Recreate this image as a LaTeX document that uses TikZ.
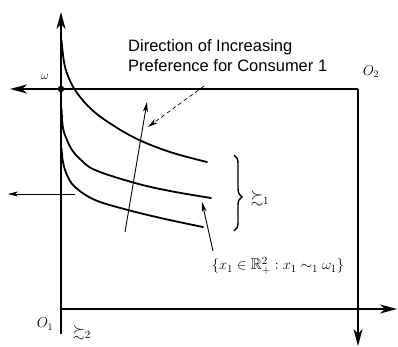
\documentclass[tikz,border=0pt]{standalone}
\usepackage{amssymb}
\usepackage{fontspec}
\setsansfont{Liberation Sans}
\usetikzlibrary{arrows.meta,decorations.pathreplacing}
\begin{document}
\begin{tikzpicture}[x=1pt,y=-1pt,
  axis/.style={line width=1.6pt,-{Stealth[length=17pt,width=9pt,inset=5pt]}},
  icurve/.style={line width=1.8pt, line cap=round},
  thinarrow/.style={line width=0.9pt,-{Stealth[length=10pt,width=5pt,inset=3pt]}},
  lbl/.style={inner sep=0pt, font=\fontsize{14}{16}\selectfont}]
\useasboundingbox (0,0) rectangle (398,347);
% axes
\coordinate (O1) at (61,309);
\coordinate (O1b) at (61,334);
\coordinate (Y1) at (61,12);
\coordinate (X1) at (397,309);
\coordinate (O2) at (358,89);
\coordinate (X2) at (10,89);
\coordinate (Y2) at (358,346);
\draw[axis,line width=2.4pt] (O1b) -- (Y1);
\draw[axis] (O1) -- (X1);
\draw[axis] (O2) -- (X2);
\draw[axis] (O2) -- (Y2);
% endowment
\node[circle, fill, inner sep=0pt, minimum size=6.5pt] (omega) at (61,89) {};
\node[lbl, font=\fontsize{12}{13}\selectfont] (wlabel) at (45,77) {$\omega$};
% indifference curves
\draw[icurve] plot[smooth, tension=0.6] coordinates {(61.5,40) (64,62) (68,76) (75,90) (88,106) (105,120) (135,138) (170,152) (207,162)};
\draw[icurve] plot[smooth, tension=0.6] coordinates {(61.5,108) (63,128) (67,140) (72,150) (80,159) (95,170) (135,183) (170,191) (211,198)};
\draw[icurve] plot[smooth, tension=0.6] coordinates {(61.5,148) (63,162) (67,175) (75,187) (95,200) (128,210) (165,219) (203,227)};
% direction arrow
\coordinate (dA) at (125,232);
\coordinate (dB) at (147,102);
\draw[thinarrow] (dA) -- (dB);
\node[anchor=north west, align=left, inner sep=0pt, font=\sffamily\fontsize{16.5}{20}\selectfont] (txt) at (128,39) {Direction of Increasing\\Preference for Consumer 1};
\coordinate (dsS) at (204,86);
\coordinate (dsE) at (148,127);
\draw[thinarrow, line width=0.7pt, dash pattern=on 4pt off 3pt] (dsS) -- (dsE);
% left arrow
\coordinate (lA) at (75,194);
\coordinate (lB) at (8,194);
\draw[thinarrow, line width=0.8pt] (lA) -- (lB);
% brace
\coordinate (bT) at (234,155);
\coordinate (bB) at (234,231);
\draw[line width=1.4pt, decorate, decoration={brace, amplitude=8pt, aspect=0.55}] (bT) -- (bB);
\node[lbl, font=\fontsize{16}{18}\selectfont] (pref1) at (260,198) {$\succsim_1$};
% indifference set label
\node[lbl, font=\fontsize{15.5}{18}\selectfont] (ind) at (278,266) {$\{x_1\in\mathbb{R}^{2}_{+} : x_1\sim_1\omega_1\}$};
\coordinate (iA) at (213,251);
\coordinate (iB) at (202,202);
\draw[thinarrow] (iA) -- (iB);
% origin labels
\node[lbl] (o1) at (45,324) {$O_1$};
\node[lbl, font=\fontsize{15}{17}\selectfont] (pref2) at (82,333) {$\succsim_2$};
\node[lbl] (o2) at (371,72) {$O_2$};
\end{tikzpicture}
\end{document}
